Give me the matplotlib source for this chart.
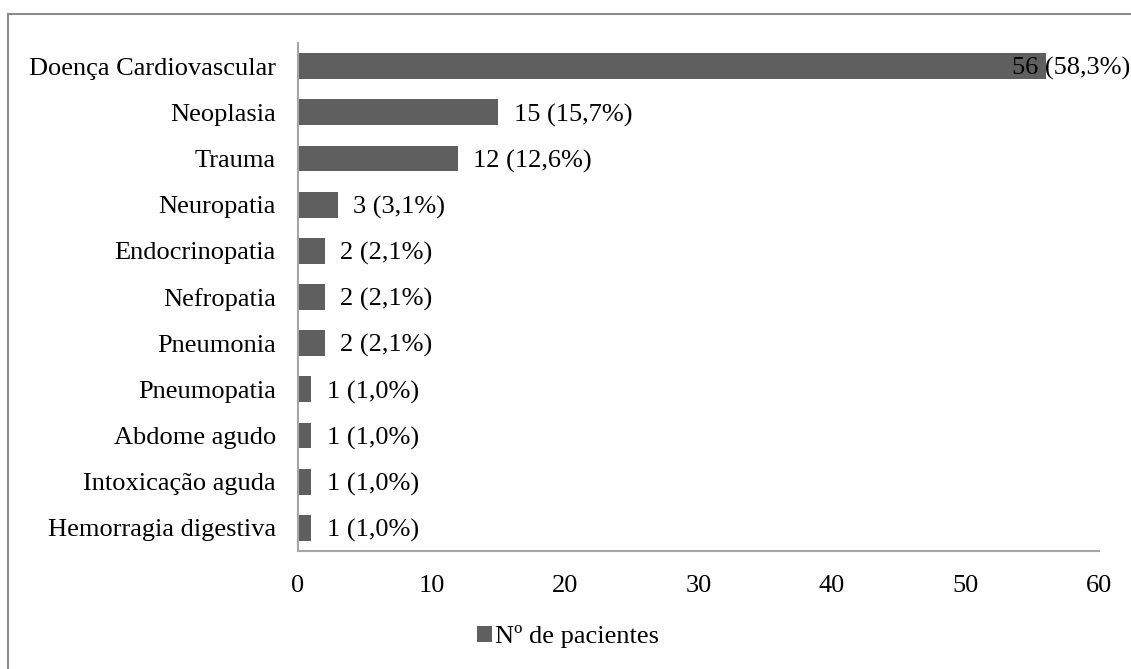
import matplotlib.pyplot as plt
from matplotlib.lines import Line2D
from matplotlib.patches import Patch

categories = ["Doença Cardiovascular", "Neoplasia", "Trauma", "Neuropatia",
              "Endocrinopatia", "Nefropatia", "Pneumonia", "Pneumopatia",
              "Abdome agudo", "Intoxicação aguda", "Hemorragia digestiva"]
counts = [56, 15, 12, 3, 2, 2, 2, 1, 1, 1, 1]
labels = ["56 (58,3%)", "15 (15,7%)", "12 (12,6%)", "3 (3,1%)", "2 (2,1%)",
          "2 (2,1%)", "2 (2,1%)", "1 (1,0%)", "1 (1,0%)", "1 (1,0%)", "1 (1,0%)"]
xticks = [0, 10, 20, 30, 40, 50, 60]
series_name = "Nº de pacientes"

plt.rcParams['font.family'] = ['Liberation Serif', 'DejaVu Serif']
fs = 19
bar_color = '#5f5f5f'
grey = '#a6a6a6'

fig = plt.figure(figsize=(11.31, 6.69), dpi=100)
ax = fig.add_axes([298/1131, 1 - 551/669, (1099 - 298)/1131, (551 - 43)/669])

ypos = list(range(len(categories)))
ax.barh(ypos, counts, height=0.56, color=bar_color)
ax.set_ylim(len(categories) - 0.5, -0.5)
ax.set_xlim(0, 60)
ax.set_yticks(ypos)
ax.set_yticklabels(categories, fontsize=fs)
ax.set_xticks(xticks)
ax.set_xticklabels([str(t) for t in xticks], fontsize=fs)
ax.tick_params(axis='y', length=0, pad=16)
ax.tick_params(axis='x', length=0, pad=17)

for s in ['top', 'right']:
    ax.spines[s].set_visible(False)
for s in ['left', 'bottom']:
    ax.spines[s].set_color(grey)
    ax.spines[s].set_linewidth(1.5)

vmax = max(counts)
for i, (v, lab) in enumerate(zip(counts, labels)):
    if v == vmax:
        # label does not fit to the right of the longest bar: pushed inward
        ax.annotate(lab, xy=(60, i), xytext=(22.5, 0), textcoords='offset points',
                    ha='right', va='center_baseline', fontsize=fs,
                    annotation_clip=False)
    else:
        ax.annotate(lab, xy=(v, i), xytext=(11, 0), textcoords='offset points',
                    ha='left', va='center_baseline', fontsize=fs)

handle = Patch(facecolor=bar_color, edgecolor='none')
fig.legend([handle], [series_name], loc='center',
           bbox_to_anchor=(568/1131, 1 - 637/669), frameon=False, fontsize=fs,
           handlelength=0.55, handleheight=0.55, handletextpad=0.1)

# chart area frame (top and left edges visible)
frame_c = '#8c8c8c'
fig.add_artist(Line2D([7.5/1131, 1.0], [1 - 13.5/669] * 2, color=frame_c, lw=1.5,
                      transform=fig.transFigure))
fig.add_artist(Line2D([7.5/1131] * 2, [0.0, 1 - 13.5/669], color=frame_c, lw=1.5,
                      transform=fig.transFigure))

fig.savefig('out.png', dpi=100)
